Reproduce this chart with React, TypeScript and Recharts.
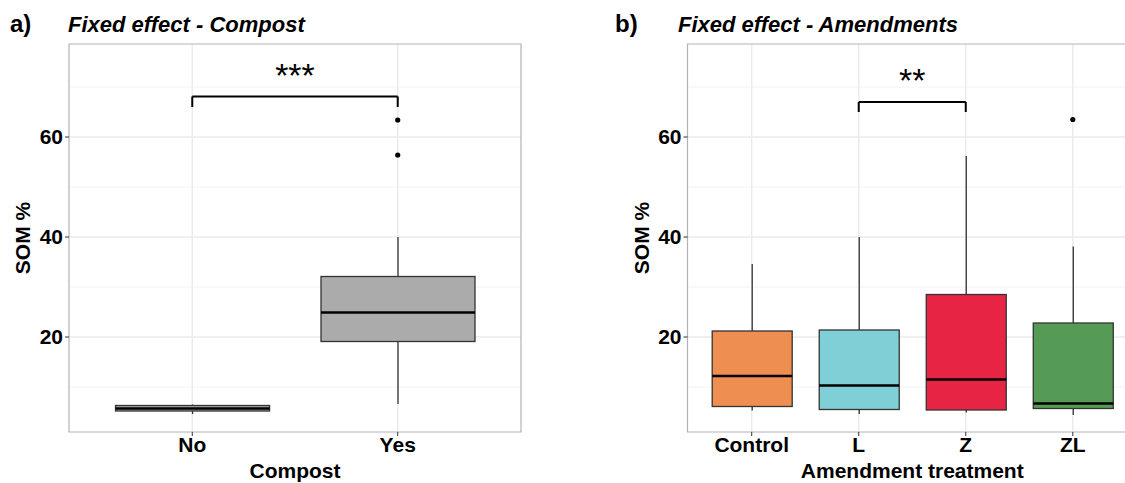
import React from 'react';
import {
  ComposedChart, Bar, Scatter, XAxis, YAxis, CartesianGrid,
  ReferenceLine, ReferenceArea, Label
} from 'recharts';

// panel a) - compost
const compostGroups = ['No', 'Yes'];
const compostMin = [4.6, 6.6];
const compostQ1 = [5.2, 19.1];
const compostMedian = [5.7, 24.9];
const compostQ3 = [6.3, 32.1];
const compostMax = [6.5, 40.0];
const compostFill = ['#ABABAB', '#ABABAB'];
const compostOutlierGroup = ['Yes', 'Yes'];
const compostOutlierValue = [56.4, 63.4];

// panel b) - amendments
const amendGroups = ['Control', 'L', 'Z', 'ZL'];
const amendMin = [5.3, 4.6, 4.9, 4.4];
const amendQ1 = [6.1, 5.5, 5.4, 5.7];
const amendMedian = [12.2, 10.3, 11.5, 6.7];
const amendQ3 = [21.2, 21.4, 28.5, 22.8];
const amendMax = [34.6, 40.0, 56.2, 38.1];
const amendFill = ['#EE8E50', '#7ECFD6', '#E82445', '#559B55'];
const amendOutlierGroup = ['ZL'];
const amendOutlierValue = [63.5];

const yTicks = [20, 40, 60];
const yMinor = [10, 30, 50, 70];
const yDomain: [number, number] = [1, 78.6];

const FONT = '"Liberation Sans", Arial, sans-serif';

const buildRows = (groups: string[], min: number[], q1: number[], med: number[], q3: number[], max: number[], fill: string[]) =>
  groups.map((g, i) => ({
    name: g,
    pos: i + 1,
    range: [min[i], max[i]],
    min: min[i], q1: q1[i], median: med[i], q3: q3[i], max: max[i],
    fill: fill[i],
  }));

const buildOutliers = (groups: string[], og: string[], ov: number[]) =>
  og.map((g, i) => ({ pos: groups.indexOf(g) + 1, value: ov[i] }));

const BoxShape = (props: any) => {
  const { x, y, width, height, payload } = props;
  if (!payload || !isFinite(y) || !isFinite(height)) return null;
  const { min, q1, median, q3, max, fill } = payload;
  const k = height / (max - min);
  const py = (v: number) => y + (max - v) * k;
  const cx = x + width / 2;
  return (
    <g>
      <line x1={cx} x2={cx} y1={py(max)} y2={py(q3)} stroke="#333" strokeWidth={1.3} />
      <line x1={cx} x2={cx} y1={py(q1)} y2={py(min)} stroke="#333" strokeWidth={1.3} />
      <rect x={x} y={py(q3)} width={width} height={py(q1) - py(q3)} fill={fill} stroke="#333" strokeWidth={1.3} />
      <line x1={x} x2={x + width} y1={py(median)} y2={py(median)} stroke="#000" strokeWidth={2.6} />
    </g>
  );
};

const OutlierDot = (props: any) => <circle cx={props.cx} cy={props.cy} r={2.6} fill="#000" />;

const tickStyle = { fontFamily: FONT, fontSize: 21, fontWeight: 'bold', fill: '#000' };

type PanelProps = {
  groups: string[];
  rows: any[];
  outliers: any[];
  width: number;
  margin: any;
  padX: number;
  boxWidth: number;
  xTitle: string;
  bracket: [number, number, number, number];
  stars: string;
};

const BoxPanel = ({ groups, rows, outliers, width, margin, padX, boxWidth, xTitle, bracket, stars }: PanelProps) => {
  const [b1, b2, top, foot] = bracket;
  const positions = groups.map((_, i) => i + 1);
  const xDomain = [1 - padX, groups.length + padX];
  return (
    <ComposedChart width={width} height={483} data={rows} margin={margin}>
      <CartesianGrid horizontalValues={yMinor} vertical={false} stroke="#F3F3F3" strokeWidth={1} />
      <CartesianGrid horizontalValues={yTicks} verticalValues={positions} stroke="#EBEBEB" strokeWidth={1.4} />
      <XAxis
        type="number"
        dataKey="pos"
        domain={xDomain}
        ticks={positions}
        tickFormatter={(v: number) => groups[v - 1]}
        interval={0}
        axisLine={false}
        tickLine={{ stroke: '#333' }}
        tickSize={4}
        tickMargin={1}
        height={51}
        tick={tickStyle}
      >
        <Label value={xTitle} position="insideBottom" offset={5} style={{ ...tickStyle }} />
      </XAxis>
      <YAxis
        type="number"
        domain={yDomain}
        ticks={yTicks}
        interval={0}
        allowDataOverflow
        axisLine={false}
        tickLine={{ stroke: '#333' }}
        tickSize={4}
        tickMargin={2}
        width={50}
        tick={tickStyle}
      >
        <Label value="SOM %" angle={-90} position="center" dx={-21} style={{ ...tickStyle, textAnchor: 'middle' }} />
      </YAxis>
      <ReferenceArea
        x1={xDomain[0]} x2={xDomain[1]} y1={yDomain[0]} y2={yDomain[1]}
        fill="#fff" fillOpacity={0} stroke="#B3B3B3" strokeWidth={1.2} ifOverflow="visible"
      />
      <Bar dataKey="range" barSize={boxWidth} shape={BoxShape} isAnimationActive={false} />
      <Scatter data={outliers} dataKey="value" shape={OutlierDot} isAnimationActive={false} />
      <ReferenceLine
        segment={[{ x: b1, y: top }, { x: b2, y: top }]}
        stroke="#000"
        strokeWidth={2}
        ifOverflow="visible"
      >
        <Label value={stars} position="top" offset={10} style={{ fontFamily: FONT, fontSize: 34, fill: '#000' }} />
      </ReferenceLine>
      <ReferenceLine segment={[{ x: b1, y: top }, { x: b1, y: foot }]} stroke="#000" strokeWidth={2} ifOverflow="visible" />
      <ReferenceLine segment={[{ x: b2, y: top }, { x: b2, y: foot }]} stroke="#000" strokeWidth={2} ifOverflow="visible" />
    </ComposedChart>
  );
};

const titleStyle: React.CSSProperties = {
  position: 'absolute', fontFamily: FONT, fontWeight: 'bold', fontSize: 22, lineHeight: '26px', color: '#000', whiteSpace: 'nowrap',
};

export default function App() {
  const compostRows = buildRows(compostGroups, compostMin, compostQ1, compostMedian, compostQ3, compostMax, compostFill);
  const amendRows = buildRows(amendGroups, amendMin, amendQ1, amendMedian, amendQ3, amendMax, amendFill);
  const compostOut = buildOutliers(compostGroups, compostOutlierGroup, compostOutlierValue);
  const amendOut = buildOutliers(amendGroups, amendOutlierGroup, amendOutlierValue);

  return (
    <div style={{ position: 'absolute', left: 0, top: 0, width: 1125, height: 483, overflow: 'hidden', background: '#fff' }}>
      <div style={{ ...titleStyle, left: 10, top: 11, fontSize: 24 }}>a)</div>
      <div style={{ ...titleStyle, left: 68, top: 12, fontStyle: 'italic' }}>Fixed effect - Compost</div>
      <div style={{ ...titleStyle, left: 615, top: 11, fontSize: 24 }}>b)</div>
      <div style={{ ...titleStyle, left: 678, top: 12, fontStyle: 'italic' }}>Fixed effect - Amendments</div>

      <div style={{ position: 'absolute', left: 0, top: 0 }}>
        <BoxPanel
          groups={compostGroups}
          rows={compostRows}
          outliers={compostOut}
          width={540}
          margin={{ top: 44, right: 19, bottom: 0, left: 19 }}
          padX={0.6}
          boxWidth={154}
          xTitle="Compost"
          bracket={[1, 2, 68.1, 66]}
          stars="***"
        />
      </div>
      <div style={{ position: 'absolute', left: 600, top: 0 }}>
        <BoxPanel
          groups={amendGroups}
          rows={amendRows}
          outliers={amendOut}
          width={560}
          margin={{ top: 44, right: 23, bottom: 0, left: 37.5 }}
          padX={0.6}
          boxWidth={80}
          xTitle="Amendment treatment"
          bracket={[2, 3, 67, 65]}
          stars="**"
        />
      </div>
    </div>
  );
}
